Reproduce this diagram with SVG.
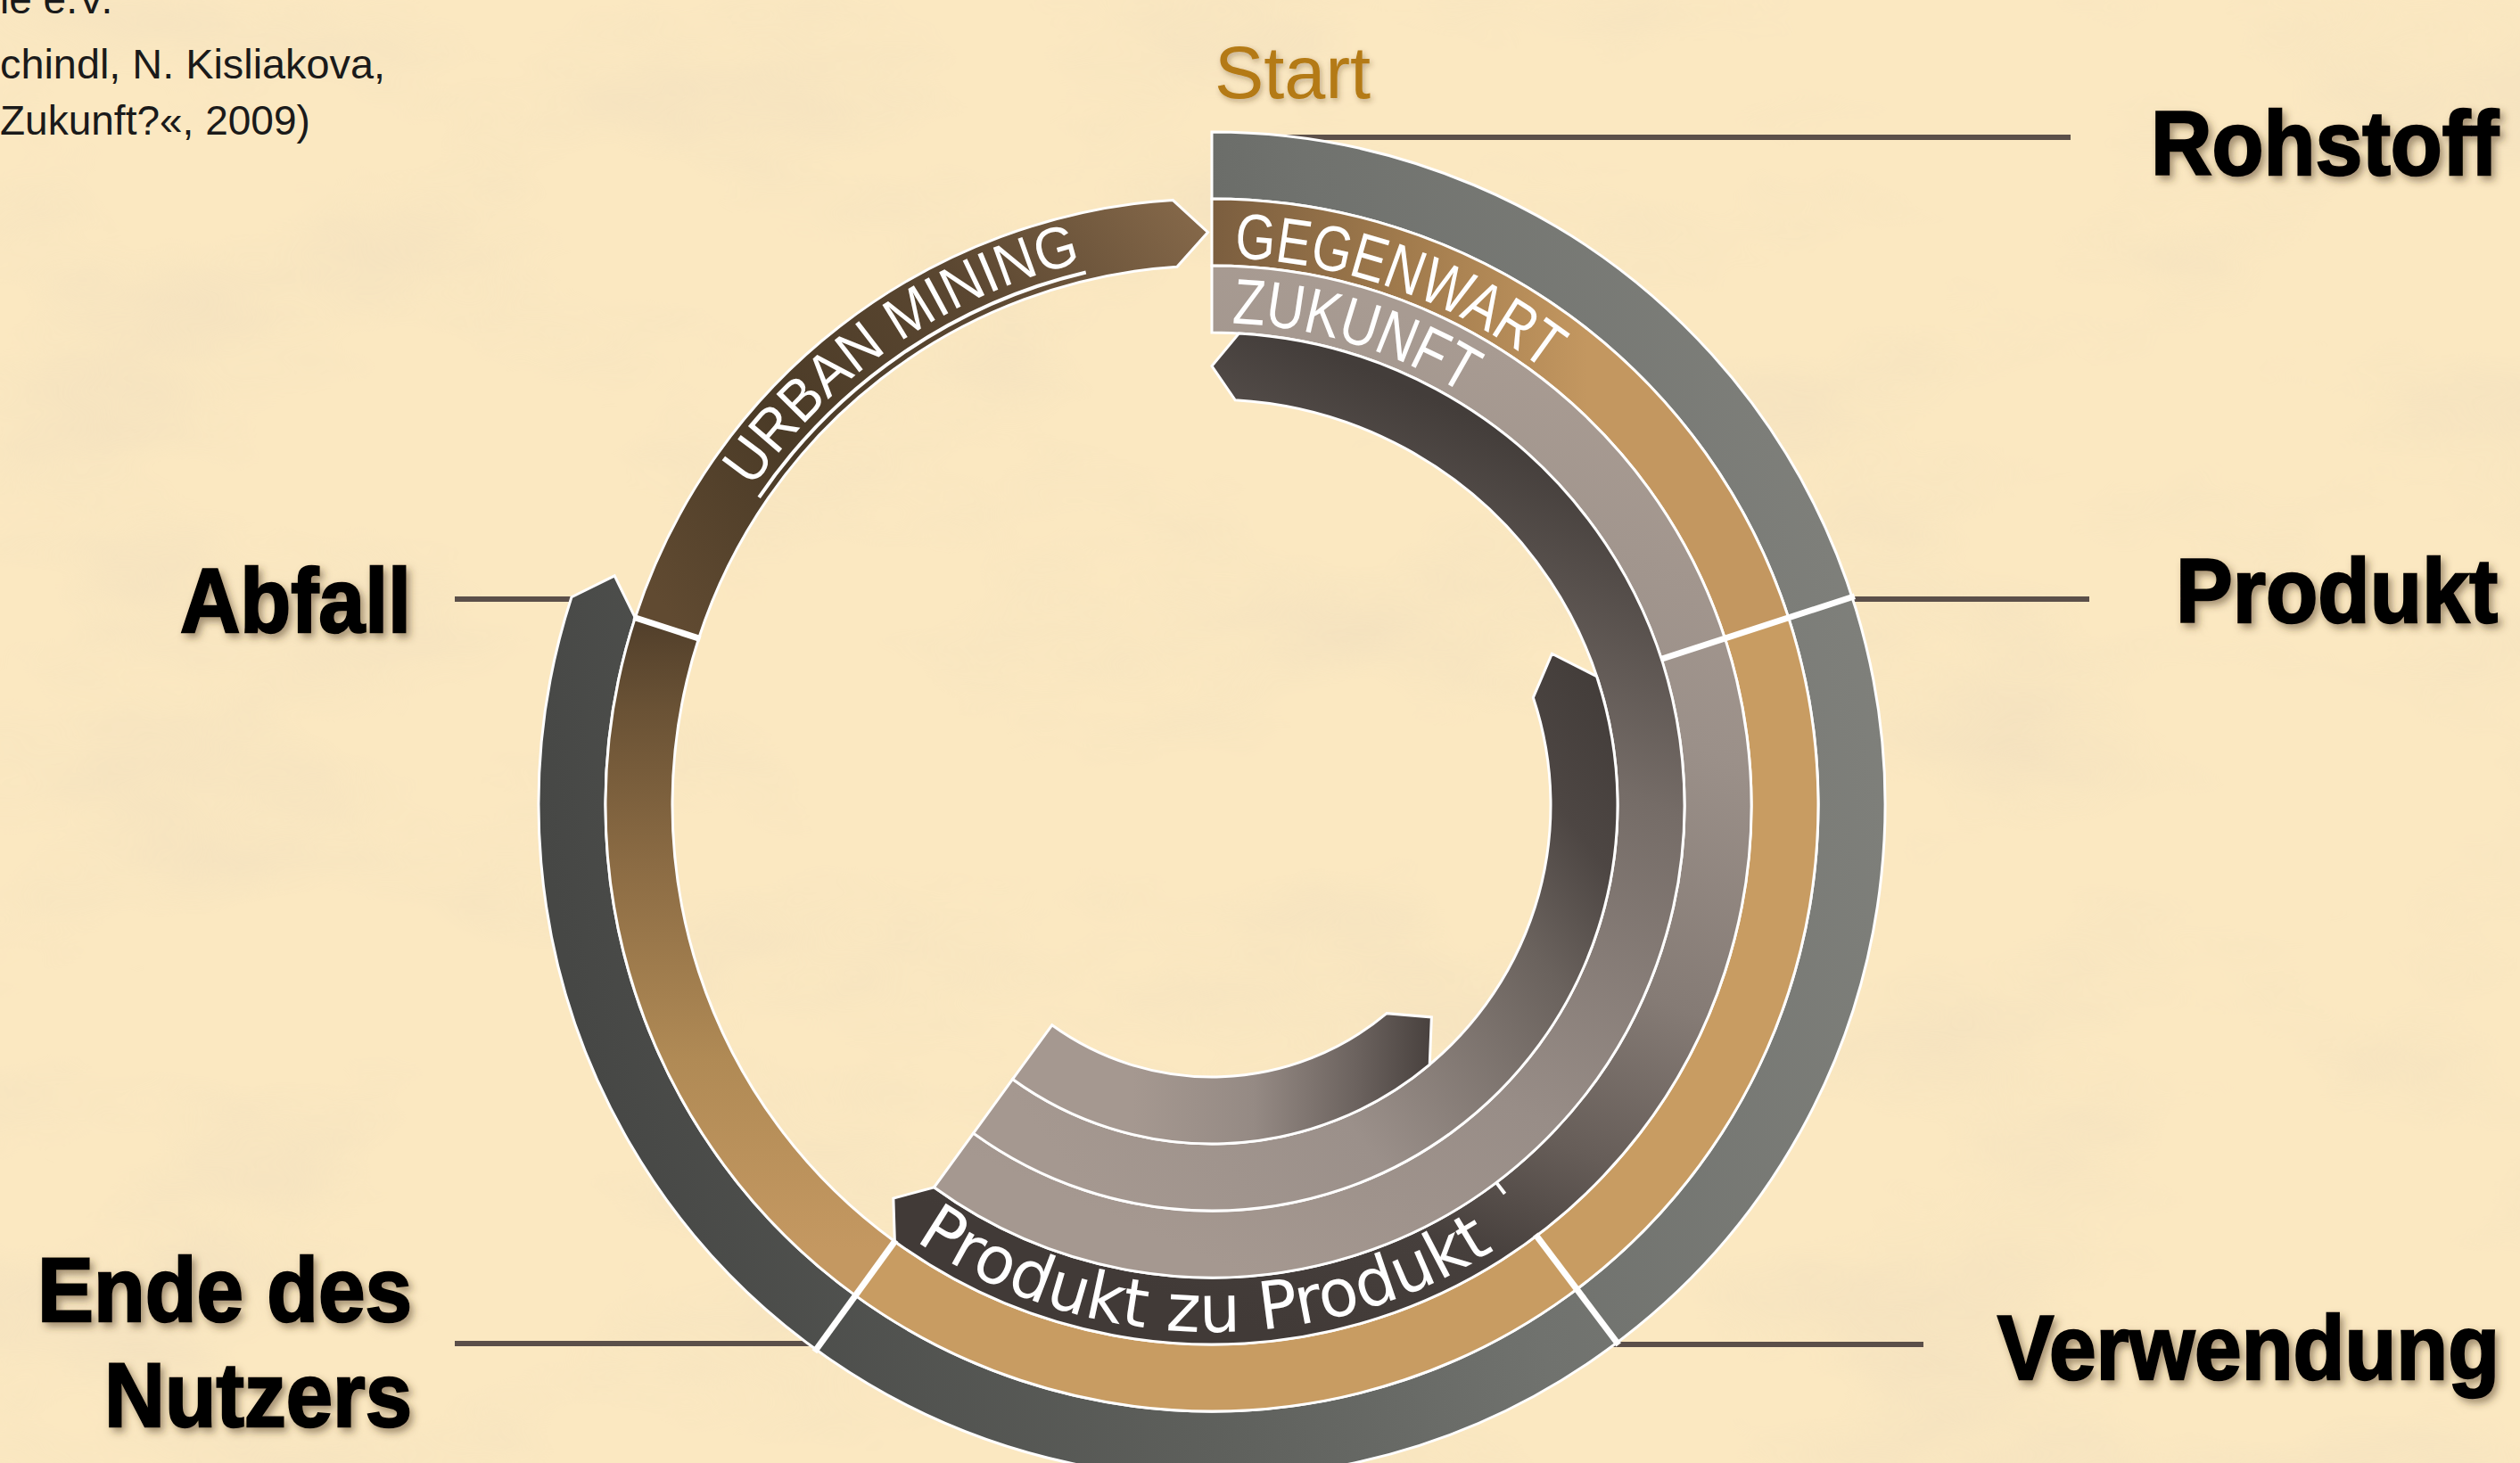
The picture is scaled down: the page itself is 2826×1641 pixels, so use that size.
<svg xmlns="http://www.w3.org/2000/svg" width="2826" height="1641" viewBox="0 0 2826 1641">
<defs>
<style>
.band{stroke:#ffffff;stroke-width:3;stroke-linejoin:miter}
.div{stroke:#ffffff;stroke-width:7;fill:none}
.lead{stroke:#5b4f49;stroke-width:6;fill:none}
.lbl{font-family:"Liberation Sans",Arial,sans-serif;font-weight:bold;font-size:102px;fill:#000;stroke:#000;stroke-width:2.5;filter:url(#sh)}
.arc{font-family:"Liberation Sans",Arial,sans-serif;fill:#fff;font-size:72px}
.src{font-family:"Liberation Sans",Arial,sans-serif;font-size:46px;fill:#1a1a1a}
</style>
<filter id="paper" filterUnits="userSpaceOnUse" x="0" y="0" width="2826" height="1641">
<feTurbulence type="fractalNoise" baseFrequency="0.0025 0.005" numOctaves="4" seed="7" result="n"/>
<feColorMatrix in="n" type="matrix" values="0 0 0 0 0.78  0 0 0 0 0.66  0 0 0 0 0.50  1.3 0 0 0 -0.62"/>
</filter>
<filter id="sh" x="-5%" y="-20%" width="110%" height="150%">
<feDropShadow dx="4" dy="5" stdDeviation="4" flood-color="#4a3520" flood-opacity="0.5"/>
</filter>
<filter id="sh2" x="-10%" y="-30%" width="130%" height="170%">
<feDropShadow dx="2" dy="3" stdDeviation="3" flood-color="#50321a" flood-opacity="0.35"/>
</filter>
<linearGradient id="gA" gradientUnits="userSpaceOnUse" x1="620" y1="1000" x2="2110" y2="700">
<stop offset="0" stop-color="#464745"/><stop offset="0.4" stop-color="#5e605c"/><stop offset="0.65" stop-color="#70726e"/><stop offset="1" stop-color="#7f807b"/>
</linearGradient>
<linearGradient id="gB1" gradientUnits="userSpaceOnUse" x1="1360" y1="0" x2="1780" y2="0">
<stop offset="0" stop-color="#7b5e3f"/><stop offset="0.5" stop-color="#a07a4c"/><stop offset="1" stop-color="#c39760"/>
</linearGradient>
<linearGradient id="gB3" gradientUnits="userSpaceOnUse" x1="0" y1="1400" x2="0" y2="690">
<stop offset="0" stop-color="#c49861"/><stop offset="0.3" stop-color="#b08a55"/><stop offset="0.6" stop-color="#8c6c44"/><stop offset="0.85" stop-color="#6a5235"/><stop offset="1" stop-color="#503e2a"/>
</linearGradient>
<linearGradient id="gU" gradientUnits="userSpaceOnUse" x1="760" y1="700" x2="1350" y2="240">
<stop offset="0" stop-color="#604a31"/><stop offset="0.3" stop-color="#4b3b27"/><stop offset="0.65" stop-color="#5b4731"/><stop offset="1" stop-color="#86694a"/>
</linearGradient>
<linearGradient id="gC" gradientUnits="userSpaceOnUse" x1="1700" y1="400" x2="1300" y2="1450">
<stop offset="0" stop-color="#a89b92"/><stop offset="0.3" stop-color="#9b9089"/><stop offset="0.55" stop-color="#857b75"/><stop offset="0.72" stop-color="#665d58"/><stop offset="0.85" stop-color="#463f3c"/><stop offset="1" stop-color="#413a37"/>
</linearGradient>
<linearGradient id="gD" gradientUnits="userSpaceOnUse" x1="1100" y1="1300" x2="1500" y2="400">
<stop offset="0" stop-color="#a59890"/><stop offset="0.3" stop-color="#988d87"/><stop offset="0.68" stop-color="#756c67"/><stop offset="1" stop-color="#433d3a"/>
</linearGradient>
<linearGradient id="gE" gradientUnits="userSpaceOnUse" x1="1150" y1="1250" x2="1790" y2="760">
<stop offset="0" stop-color="#a59890"/><stop offset="0.35" stop-color="#9b908a"/><stop offset="0.7" stop-color="#6a625d"/><stop offset="0.85" stop-color="#4d4643"/><stop offset="1" stop-color="#433d3a"/>
</linearGradient>
<linearGradient id="gF" gradientUnits="userSpaceOnUse" x1="1270" y1="0" x2="1610" y2="0">
<stop offset="0" stop-color="#a59890"/><stop offset="0.4" stop-color="#958a84"/><stop offset="0.75" stop-color="#6a615d"/><stop offset="1" stop-color="#463f3c"/>
</linearGradient>
<path id="pGeg" d="M 1383.64 289.49 A 614 614 0 0 1 1753.67 432.65"/>
<path id="pZuk" d="M 1381.65 362.47 A 541 541 0 0 1 1677.0 465.32"/>
<path id="pUrb" d="M 843.71 547.53 A 626 626 0 0 1 1250.30 286.51"/>
<path id="pPzp" d="M 1025.95 1391.23 A 591 591 0 0 0 1738.89 1355.73"/>
</defs>

<g id="background">
<rect width="2826" height="1641" fill="#fbe8c1"/>
<rect width="2826" height="1641" fill="#000" filter="url(#paper)" opacity="0.6"/>
</g>

<g id="source-text">
<text class="src" x="0" y="15">ie e.V.</text>
<text class="src" x="0" y="88" textLength="432" lengthAdjust="spacingAndGlyphs">chindl, N. Kisliakova,</text>
<text class="src" x="0" y="151">Zukunft?«, 2009)</text>
</g>

<g id="connectors">
<path class="lead" d="M 1400 154 H 2322"/>
<path class="lead" d="M 2050 672 H 2343"/>
<path class="lead" d="M 1790 1508 H 2157"/>
<path class="lead" d="M 510 672 H 660"/>
<path class="lead" d="M 510 1507 H 930"/>
</g>

<g id="ring-rohstoff">
<path class="band" fill="url(#gA)" d="M 1359 148 A 755 755 0 1 1 640.95 669.69 L 689.16 645.87 L 712.28 692.87 A 680 680 0 1 0 1359 223 Z"/>
</g>
<g id="ring-gegenwart">
<path class="band" fill="url(#gB1)" d="M 1359 223 A 680 680 0 0 1 2005.72 692.87 L 1934.39 716.04 A 605 605 0 0 0 1359 298 Z"/>
<path class="band" fill="#c89c62" d="M 2005.72 692.87 A 680 680 0 0 1 959.30 1453.13 L 1003.39 1392.45 A 605 605 0 0 0 1934.39 716.04 Z"/>
<path class="band" fill="url(#gB3)" d="M 959.30 1453.13 A 680 680 0 0 1 712.28 692.87 L 783.61 716.04 A 605 605 0 0 0 1003.39 1392.45 Z"/>
</g>
<g id="ring-urban-mining">
<path class="band" fill="url(#gU)" d="M 712.28 692.87 A 680 680 0 0 1 1315.12 224.41 L 1354.5 260.5 L 1319.96 299.26 A 605 605 0 0 0 783.61 716.04 Z"/>
</g>
<g id="ring-zukunft">
<path class="band" fill="url(#gC)" d="M 1359 298 A 605 605 0 1 1 1003.39 1392.45 L 1001.86 1344.03 L 1047.47 1331.78 A 530 530 0 1 0 1359 373 Z"/>
</g>
<g id="ring-loop-1">
<path class="band" fill="url(#gD)" d="M 1047.47 1331.78 A 530 530 0 1 0 1389.51 373.88 L 1359 410.5 L 1385.19 448.76 A 455 455 0 1 1 1091.56 1271.10 Z"/>
</g>
<g id="ring-loop-2">
<path class="band" fill="url(#gE)" d="M 1091.56 1271.10 A 455 455 0 0 0 1790.49 758.63 L 1740.41 733.19 L 1719.36 782.43 A 380 380 0 0 1 1135.64 1210.43 Z"/>
</g>
<g id="ring-loop-3">
<path class="band" fill="url(#gF)" d="M 1135.64 1210.43 A 380 380 0 0 0 1603.26 1194.10 L 1605.37 1140.92 L 1555.05 1136.64 A 305 305 0 0 1 1179.72 1149.75 Z"/>
</g>

<g id="dividers">
<path class="div" d="M 1863.06 739.22 L 2079.90 668.76"/>
<path class="div" d="M 1721.90 1384.58 L 1815.18 1508.37"/>
<path class="div" style="stroke-width:4" d="M 1678.57 1327.08 L 1687.59 1339.06"/>
<path class="div" d="M 1004.56 1390.84 L 913.45 1516.24"/>
<path class="div" d="M 785.51 716.66 L 710.38 692.25"/>
</g>

<g id="arc-labels">
<text class="arc"><textPath href="#pGeg" textLength="377" lengthAdjust="spacingAndGlyphs">GEGENWART</textPath></text>
<text class="arc"><textPath href="#pZuk" textLength="275" lengthAdjust="spacingAndGlyphs">ZUKUNFT</textPath></text>
<text class="arc" style="font-size:66px"><textPath href="#pUrb" textLength="458" lengthAdjust="spacingAndGlyphs">URBAN MINING</textPath></text>
<path d="M 851.17 557.88 A 614 614 0 0 1 1217.75 305.47" fill="none" stroke="#fff" stroke-width="4"/>
<text class="arc" style="font-family:'DejaVu Sans',sans-serif;font-size:74px"><textPath href="#pPzp" textLength="688" lengthAdjust="spacingAndGlyphs">Produkt zu Produkt</textPath></text>
</g>

<g id="node-start">
<text x="1362" y="110" font-family="Liberation Sans, Arial, sans-serif" font-size="83" fill="#b47a12" textLength="175" lengthAdjust="spacingAndGlyphs" filter="url(#sh2)">Start</text>
</g>
<g id="node-rohstoff"><text class="lbl" x="2412" y="196" textLength="390" lengthAdjust="spacingAndGlyphs">Rohstoff</text></g>
<g id="node-produkt"><text class="lbl" x="2440" y="698" textLength="361" lengthAdjust="spacingAndGlyphs">Produkt</text></g>
<g id="node-verwendung"><text class="lbl" x="2240" y="1547" textLength="563" lengthAdjust="spacingAndGlyphs">Verwendung</text></g>
<g id="node-abfall"><text class="lbl" x="202" y="709" textLength="259" lengthAdjust="spacingAndGlyphs">Abfall</text></g>
<g id="node-ende">
<text class="lbl" x="42" y="1482" textLength="420" lengthAdjust="spacingAndGlyphs">Ende des</text>
<text class="lbl" x="117" y="1600" textLength="345" lengthAdjust="spacingAndGlyphs">Nutzers</text>
</g>
</svg>
